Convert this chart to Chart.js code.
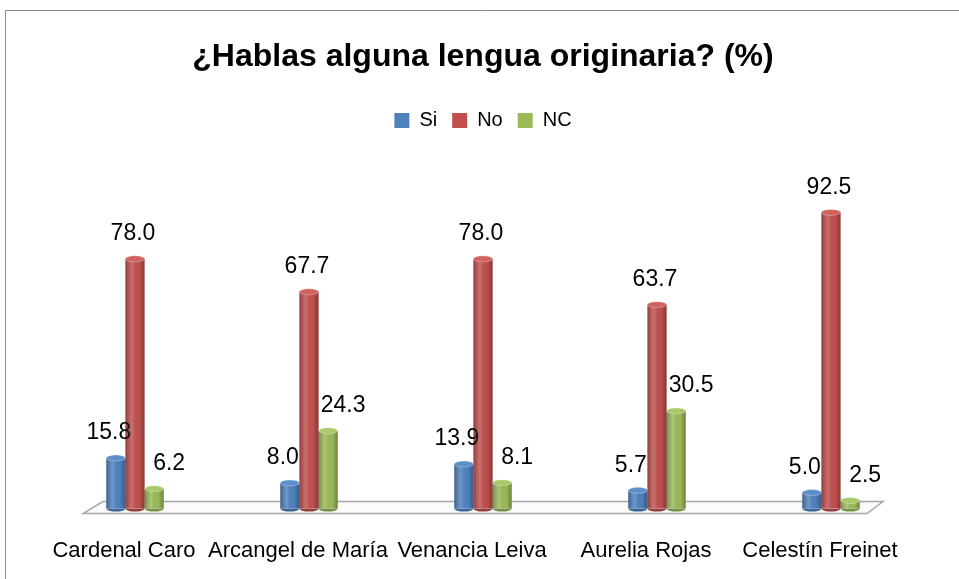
<!DOCTYPE html>
<html lang="es">
<head>
  <meta charset="UTF-8">
  <title>¿Hablas alguna lengua originaria?</title>
  <script src="https://cdn.jsdelivr.net/npm/chart.js"></script>
  <style>
    html, body {
      margin: 0;
      padding: 0;
      background: #ffffff;
      overflow: hidden;
    }
  </style>
</head>
<body>

<canvas id="lenguaChart" width="959" height="579"></canvas>

<script>
  const schools = ['Cardenal Caro', 'Arcangel de María', 'Venancia Leiva', 'Aurelia Rojas', 'Celestín Freinet'];
  const siValues = [15.8, 8.0, 13.9, 5.7, 5.0];
  const noValues = [78.0, 67.7, 78.0, 63.7, 92.5];
  const ncValues = [6.2, 24.3, 8.1, 30.5, 2.5];

  const FONT = "'Liberation Sans', Arial, sans-serif";

  // frame around the chart (only top + left visible in the picture)
  const framePlugin = {
    id: 'frame',
    beforeDraw(chart) {
      const ctx = chart.ctx;
      ctx.save();
      ctx.fillStyle = '#ffffff';
      ctx.fillRect(0, 0, chart.width, chart.height);
      ctx.strokeStyle = '#8c8c8c';
      ctx.lineWidth = 1;
      ctx.beginPath();
      ctx.moveTo(5.5, chart.height);
      ctx.lineTo(5.5, 10.5);
      ctx.lineTo(chart.width, 10.5);
      ctx.stroke();
      ctx.restore();
    }
  };

  // flat 3D floor under the bars
  const floorPlugin = {
    id: 'floor',
    beforeDatasetsDraw(chart) {
      const ctx = chart.ctx;
      const a = chart.chartArea;
      const yBase = chart.scales.y.getPixelForValue(0);
      const backY = yBase - 7, frontY = yBase + 5;
      ctx.save();
      ctx.beginPath();
      ctx.moveTo(a.left + 35, frontY);
      ctx.lineTo(a.left + 55, backY);
      ctx.lineTo(a.right - 35, backY);
      ctx.lineTo(a.right - 51, frontY);
      ctx.closePath();
      ctx.fillStyle = '#fbfbfb';
      ctx.fill();
      ctx.strokeStyle = '#a6a6a6';
      ctx.lineWidth = 1.5;
      ctx.stroke();
      ctx.restore();
    }
  };

  // cylinder shading + value labels
  const cylinderPlugin = {
    id: 'cylinder',
    afterDatasetsDraw(chart) {
      const ctx = chart.ctx;
      const labelShift = [-7, -2, 15];
      chart.data.datasets.forEach((ds, di) => {
        const meta = chart.getDatasetMeta(di);
        meta.data.forEach((bar, i) => {
          const w = bar.width;
          const left = bar.x - w / 2;
          const top = bar.y;
          const base = bar.base;
          ctx.save();
          const g = ctx.createLinearGradient(left, 0, left + w, 0);
          g.addColorStop(0, 'rgba(0,0,0,0.25)');
          g.addColorStop(0.35, 'rgba(255,255,255,0.18)');
          g.addColorStop(0.7, 'rgba(0,0,0,0)');
          g.addColorStop(1, 'rgba(0,0,0,0.3)');
          ctx.fillStyle = g;
          ctx.fillRect(left, top, w, base - top);
          // bottom rim
          ctx.beginPath();
          ctx.ellipse(bar.x, base, w / 2, 3, 0, 0, Math.PI);
          ctx.fillStyle = ds.edgeColor;
          ctx.fill();
          // top cap
          ctx.beginPath();
          ctx.ellipse(bar.x, top, w / 2, 3, 0, 0, Math.PI * 2);
          ctx.fillStyle = ds.capColor;
          ctx.fill();
          ctx.strokeStyle = 'rgba(255,255,255,0.35)';
          ctx.lineWidth = 0.8;
          ctx.stroke();
          ctx.restore();

          ctx.save();
          ctx.fillStyle = '#000000';
          ctx.font = '23px ' + FONT;
          ctx.textAlign = 'center';
          ctx.textBaseline = 'middle';
          ctx.fillText(ds.data[i].toFixed(1), bar.x + labelShift[di], top - 25);
          ctx.restore();
        });
      });
    }
  };

  new Chart(document.getElementById('lenguaChart').getContext('2d'), {
    type: 'bar',
    data: {
      labels: schools,
      datasets: [
        {
          label: 'Si',
          data: siValues,
          backgroundColor: '#4F81BD',
          capColor: '#5e8fcb',
          edgeColor: '#3b6497'
        },
        {
          label: 'No',
          data: noValues,
          backgroundColor: '#C0504D',
          capColor: '#d0625f',
          edgeColor: '#963c3a'
        },
        {
          label: 'NC',
          data: ncValues,
          backgroundColor: '#9BBB59',
          capColor: '#a9c96a',
          edgeColor: '#779244'
        }
      ]
    },
    options: {
      responsive: false,
      animation: false,
      devicePixelRatio: 1,
      categoryPercentage: 0.33,
      barPercentage: 1,
      layout: {
        padding: { left: 48, right: 41, top: 0, bottom: -6 }
      },
      plugins: {
        title: {
          display: true,
          text: '¿Hablas alguna lengua originaria? (%)',
          color: '#000000',
          font: { family: FONT, size: 32, weight: 'bold' },
          padding: { top: 38, bottom: 19 }
        },
        legend: {
          display: true,
          labels: {
            color: '#000000',
            font: { family: FONT, size: 20 },
            boxWidth: 15,
            boxHeight: 15,
            padding: 15
          }
        },
        tooltip: { enabled: false }
      },
      scales: {
        x: {
          grid: { display: false },
          border: { display: false },
          ticks: {
            color: '#000000',
            font: { family: FONT, size: 22 },
            maxRotation: 0,
            minRotation: 0,
            autoSkip: false,
            labelOffset: -11,
            padding: 21
          }
        },
        y: {
          display: false,
          min: 0,
          max: 115
        }
      }
    },
    plugins: [framePlugin, floorPlugin, cylinderPlugin]
  });
</script>

</body>
</html>
